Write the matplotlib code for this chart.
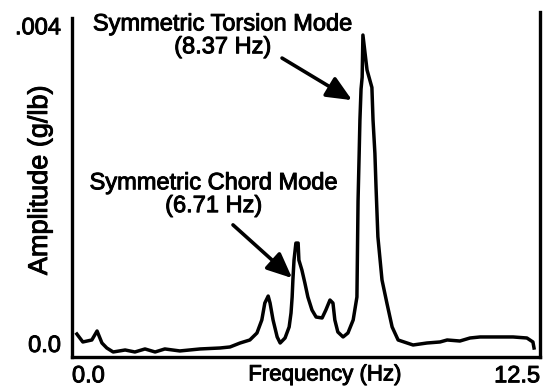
import matplotlib
matplotlib.use("Agg")
import matplotlib.pyplot as plt
import matplotlib.patheffects as pe

plt.rcParams['font.family'] = ['Liberation Sans', 'DejaVu Sans']

# frequency response trace (Hz, g/lb)
freq = [0.13, 0.29, 0.53, 0.67, 0.80, 0.93, 1.10, 1.42, 1.68, 1.95, 2.22, 2.48,
        2.88, 3.42, 3.95, 4.22, 4.49, 4.75, 4.94, 5.07, 5.15, 5.24, 5.29, 5.37,
        5.48, 5.56, 5.69, 5.80, 5.85, 5.88, 5.90, 5.93, 5.98, 6.04, 6.06, 6.14,
        6.22, 6.30, 6.41, 6.52, 6.68, 6.78, 6.89, 6.97, 7.02, 7.10, 7.24, 7.37,
        7.51, 7.61, 7.64, 7.67, 7.69, 7.72, 7.75, 7.77, 7.88, 8.01, 8.04, 8.09,
        8.12, 8.17, 8.28, 8.41, 8.55, 8.71, 8.95, 9.11, 9.48, 9.83, 10.02, 10.36,
        10.63, 10.90, 11.16, 11.43, 11.78, 12.15, 12.31, 12.34]
amp = [0.000226, 0.000126, 0.000151, 0.000264, 0.000113, 0.000050, 0.000000,
       0.000025, 0.000000, 0.000038, 0.000000, 0.000038, 0.000013, 0.000038,
       0.000050, 0.000063, 0.000113, 0.000151, 0.000239, 0.000403, 0.000616,
       0.000704, 0.000616, 0.000403, 0.000189, 0.000113, 0.000176, 0.000315,
       0.000491, 0.000692, 0.000906, 0.001157, 0.001371, 0.001371, 0.001157,
       0.001032, 0.000868, 0.000692, 0.000528, 0.000440, 0.000428, 0.000528,
       0.000654, 0.000616, 0.000403, 0.000252, 0.000189, 0.000239, 0.000403,
       0.000692, 0.001900, 0.002500, 0.002920, 0.003310, 0.003460, 0.003990,
       0.003550, 0.003330, 0.002920, 0.002500, 0.002080, 0.001450, 0.000906,
       0.000616, 0.000315, 0.000151, 0.000113, 0.000088, 0.000113, 0.000126,
       0.000151, 0.000138, 0.000176, 0.000189, 0.000189, 0.000189, 0.000189,
       0.000176, 0.000126, 0.000050]

torsion_label = "Symmetric Torsion Mode\n(8.37 Hz)"
chord_label = "Symmetric Chord Mode\n(6.71 Hz)"
xtick_vals = [0.0, 12.5]
xtick_text = ['0.0', '12.5']
ytick_vals = [0.0, 0.004]
ytick_text = ['0.0', '.004']

# slightly heavier lettering
heavy = [pe.withStroke(linewidth=0.7, foreground='black')]

fig = plt.figure(figsize=(5.52, 3.91), dpi=100)
ax = fig.add_axes([0.1304, 0.087, 0.8479, 0.8823])

ax.plot(freq, amp, color='black', lw=2.5, solid_joinstyle='round', clip_on=False)

ax.set_xlim(0, 12.5)
ax.set_ylim(-0.000063, 0.00428)

ax.spines['top'].set_visible(False)
for s in ['left', 'bottom', 'right']:
    ax.spines[s].set_linewidth(2.4)
ax.spines['left'].set_bounds(-0.000063, 0.00421)

ax.set_xticks(xtick_vals)
ax.set_xticklabels(xtick_text, fontsize=17)
ax.set_yticks(ytick_vals)
ax.set_yticklabels(ytick_text, fontsize=17)
ax.tick_params(length=0)
ax.tick_params(axis='x', pad=6)
ax.tick_params(axis='y', pad=8)
xl = ax.get_xticklabels()
xl[0].set_ha('left')
xl[1].set_ha('right')
for t in ax.get_yticklabels():
    t.set_va('baseline')
for t in ax.get_xticklabels() + ax.get_yticklabels():
    t.set_path_effects(heavy)

fig.text(325 / 552, 1 - 375 / 391, 'Frequency (Hz)', fontsize=16,
         ha='center', va='center', path_effects=heavy)
fig.text(40 / 552, 1 - 180 / 391, 'Amplitude (g/lb)', fontsize=19.5,
         rotation=90, ha='center', va='center', path_effects=heavy)

# mode callouts
ax.text(4.03, 0.00398, torsion_label, fontsize=17, ha='center', va='center',
        multialignment='center', linespacing=1.05, path_effects=heavy)
ax.text(3.79, 0.00198, chord_label, fontsize=17, ha='center', va='center',
        multialignment='center', linespacing=1.05, path_effects=heavy)

arrow = dict(arrowstyle='-|>,head_length=0.9,head_width=0.4', lw=2.6,
             color='black', shrinkA=0, shrinkB=0)
ax.annotate('', xy=(7.48, 0.00317), xytext=(5.61, 0.00370),
            arrowprops=arrow, fontsize=17)
ax.annotate('', xy=(5.88, 0.00093), xytext=(4.30, 0.00160),
            arrowprops=arrow, fontsize=17)

fig.savefig('out.png', dpi=100)
